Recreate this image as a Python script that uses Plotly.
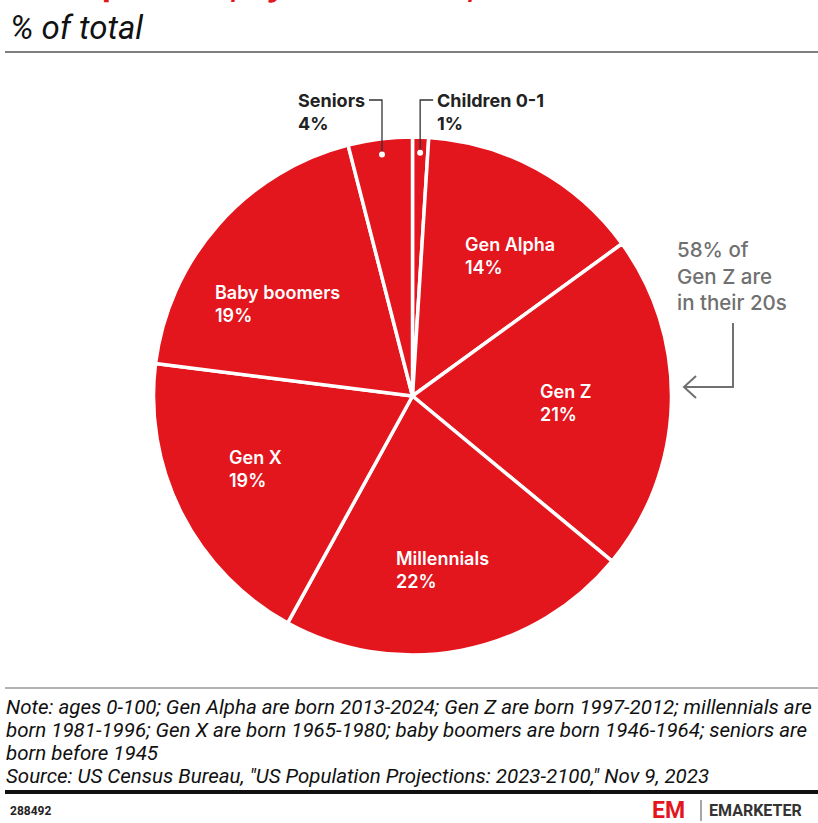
import math
import plotly.graph_objects as go

# ---------------- data ----------------
labels = ["Children 0-1", "Gen Alpha", "Gen Z", "Millennials", "Gen X", "Baby boomers", "Seniors"]
values = [1, 14, 21, 22, 19, 19, 4]
title_text = "US Population, by Generation, 2023"
subtitle_text = "% of total"
callout_text = "58% of<br>Gen Z are<br>in their 20s"
note_lines = [
    "Note: ages 0-100; Gen Alpha are born 2013-2024; Gen Z are born 1997-2012; millennials are",
    "born 1981-1996; Gen X are born 1965-1980; baby boomers are born 1946-1964; seniors are",
    "born before 1945",
    "Source: US Census Bureau, \"US Population Projections: 2023-2100,\" Nov 9, 2023",
]
chart_id = "288492"

# ---------------- style ----------------
W, H = 818, 823
RED = "#E3151D"
GRAY = "#707070"
cx, cy, R = 412.5, 396.0, 259.0   # pie centre / radius in px

def px(x):
    return x / W

def py(y):
    return 1 - y / H

fig = go.Figure()
fig.add_trace(go.Pie(
    labels=labels, values=values, sort=False, direction="clockwise", rotation=0,
    marker=dict(colors=[RED] * len(values), line=dict(color="white", width=3.5)),
    textinfo="none", hoverinfo="label+percent", showlegend=False,
    domain=dict(x=[px(cx - R), px(cx + R)], y=[py(cy + R), py(cy - R)]),
))

total = sum(values)
cum = 0
mids = []
for v in values:
    mids.append((cum + v / 2) / total * 360)
    cum += v

def polar(angle_deg, r):
    a = math.radians(angle_deg)
    return cx + r * math.sin(a), cy - r * math.cos(a)

annotations = []
shapes = []

# inside labels (big slices)
inside = {1: (0.66, 6), 2: (0.59, 1), 3: (0.68, 1), 4: (0.67, 2), 5: (0.63, -7)}
for i, (frac, nudge) in inside.items():
    x, y = polar(mids[i] + nudge, frac * R)
    annotations.append(dict(
        x=px(x), y=py(y), xref="paper", yref="paper", showarrow=False, align="left",
        xanchor="center", yanchor="middle",
        text=f"{labels[i]}<br>{values[i]}%",
        font=dict(family="Inter, Roboto, sans-serif", size=18, color="white", weight=600),
    ))

# outside labels (small slices) with leader lines
outside = {6: -1, 0: 1}   # side the text sits on
for i, side in outside.items():
    dx, dy = polar(mids[i], 0.94 * R)
    top_y = 100
    hx = dx + side * 13
    shapes.append(dict(type="path", xref="paper", yref="paper",
                       path=f"M {px(dx)} {py(dy)} L {px(dx)} {py(top_y)} L {px(hx)} {py(top_y)}",
                       line=dict(color="#333333", width=1.3)))
    shapes.append(dict(type="circle", xref="paper", yref="paper",
                       x0=px(dx - 3), x1=px(dx + 3), y0=py(dy - 3), y1=py(dy + 3),
                       fillcolor="white", line=dict(width=0)))
    annotations.append(dict(
        x=px(hx + side * 2), y=py(112), xref="paper", yref="paper", showarrow=False,
        align="left", xanchor="left" if side > 0 else "right", yanchor="middle",
        text=f"{labels[i]}<br>{values[i]}%",
        font=dict(family="Inter, Roboto, sans-serif", size=18, color="#222222", weight=700),
    ))

# callout
annotations.append(dict(
    x=px(675), y=py(276), xref="paper", yref="paper", showarrow=False, align="left",
    xanchor="left", yanchor="middle", text=callout_text,
    font=dict(family="Inter, Roboto, sans-serif", size=20.5, color=GRAY, weight=500),
))
shapes.append(dict(type="path", xref="paper", yref="paper",
                   path=f"M {px(733)} {py(323)} L {px(733)} {py(387)} L {px(684)} {py(387)}",
                   line=dict(color=GRAY, width=2)))
shapes.append(dict(type="path", xref="paper", yref="paper",
                   path=f"M {px(696)} {py(376)} L {px(684)} {py(387)} L {px(696)} {py(398)}",
                   line=dict(color=GRAY, width=2)))

# header (title is cropped at the top edge, as in the reference)
annotations.append(dict(x=px(8), y=py(-15), xref="paper", yref="paper", showarrow=False,
                        xanchor="left", yanchor="middle", text=f"<b>{title_text}</b>",
                        font=dict(family="Inter, Roboto, sans-serif", size=32, color=RED)))
annotations.append(dict(x=px(8), y=py(28), xref="paper", yref="paper", showarrow=False,
                        xanchor="left", yanchor="middle", text=subtitle_text,
                        font=dict(family="Roboto, sans-serif", size=33, color="#111111", style="italic")))
shapes.append(dict(type="line", xref="paper", yref="paper", x0=px(5), x1=1, y0=py(52), y1=py(52),
                   line=dict(color="#555555", width=1.5)))

# footer
shapes.append(dict(type="line", xref="paper", yref="paper", x0=px(5), x1=1, y0=py(688), y1=py(688),
                   line=dict(color="#666666", width=1.2)))
for k, line in enumerate(note_lines):
    annotations.append(dict(x=px(4), y=py(707 + k * 23), xref="paper", yref="paper", showarrow=False,
                            xanchor="left", yanchor="middle", text=line,
                            font=dict(family="Roboto, sans-serif", size=20.5,
                                      color="#111111", style="italic")))
shapes.append(dict(type="line", xref="paper", yref="paper", x0=px(5), x1=1, y0=py(792), y1=py(792),
                   line=dict(color="#111111", width=4)))
annotations.append(dict(x=px(8), y=py(811), xref="paper", yref="paper", showarrow=False,
                        xanchor="left", yanchor="middle", text=f"<b>{chart_id}</b>",
                        font=dict(family="Roboto, sans-serif", size=12, color="#222222")))
annotations.append(dict(x=px(650), y=py(810), xref="paper", yref="paper", showarrow=False,
                        xanchor="left", yanchor="middle", text="<b>EM</b>",
                        font=dict(family="Roboto, sans-serif", size=23, color=RED)))
shapes.append(dict(type="line", xref="paper", yref="paper", x0=px(701), x1=px(701), y0=py(800), y1=py(821),
                   line=dict(color="#888888", width=1.5)))
annotations.append(dict(x=px(707), y=py(810), xref="paper", yref="paper", showarrow=False,
                        xanchor="left", yanchor="middle", text="<b>EMARKETER</b>",
                        font=dict(family="Roboto, sans-serif", size=16, color="#333333")))

fig.update_layout(
    width=W, height=H, margin=dict(l=0, r=0, t=0, b=0),
    paper_bgcolor="white", plot_bgcolor="white",
    annotations=annotations, shapes=shapes,
)
fig.write_html("out.html", config={"displayModeBar": False},
               post_script="document.body.style.margin='0';document.body.style.overflow='hidden';")
